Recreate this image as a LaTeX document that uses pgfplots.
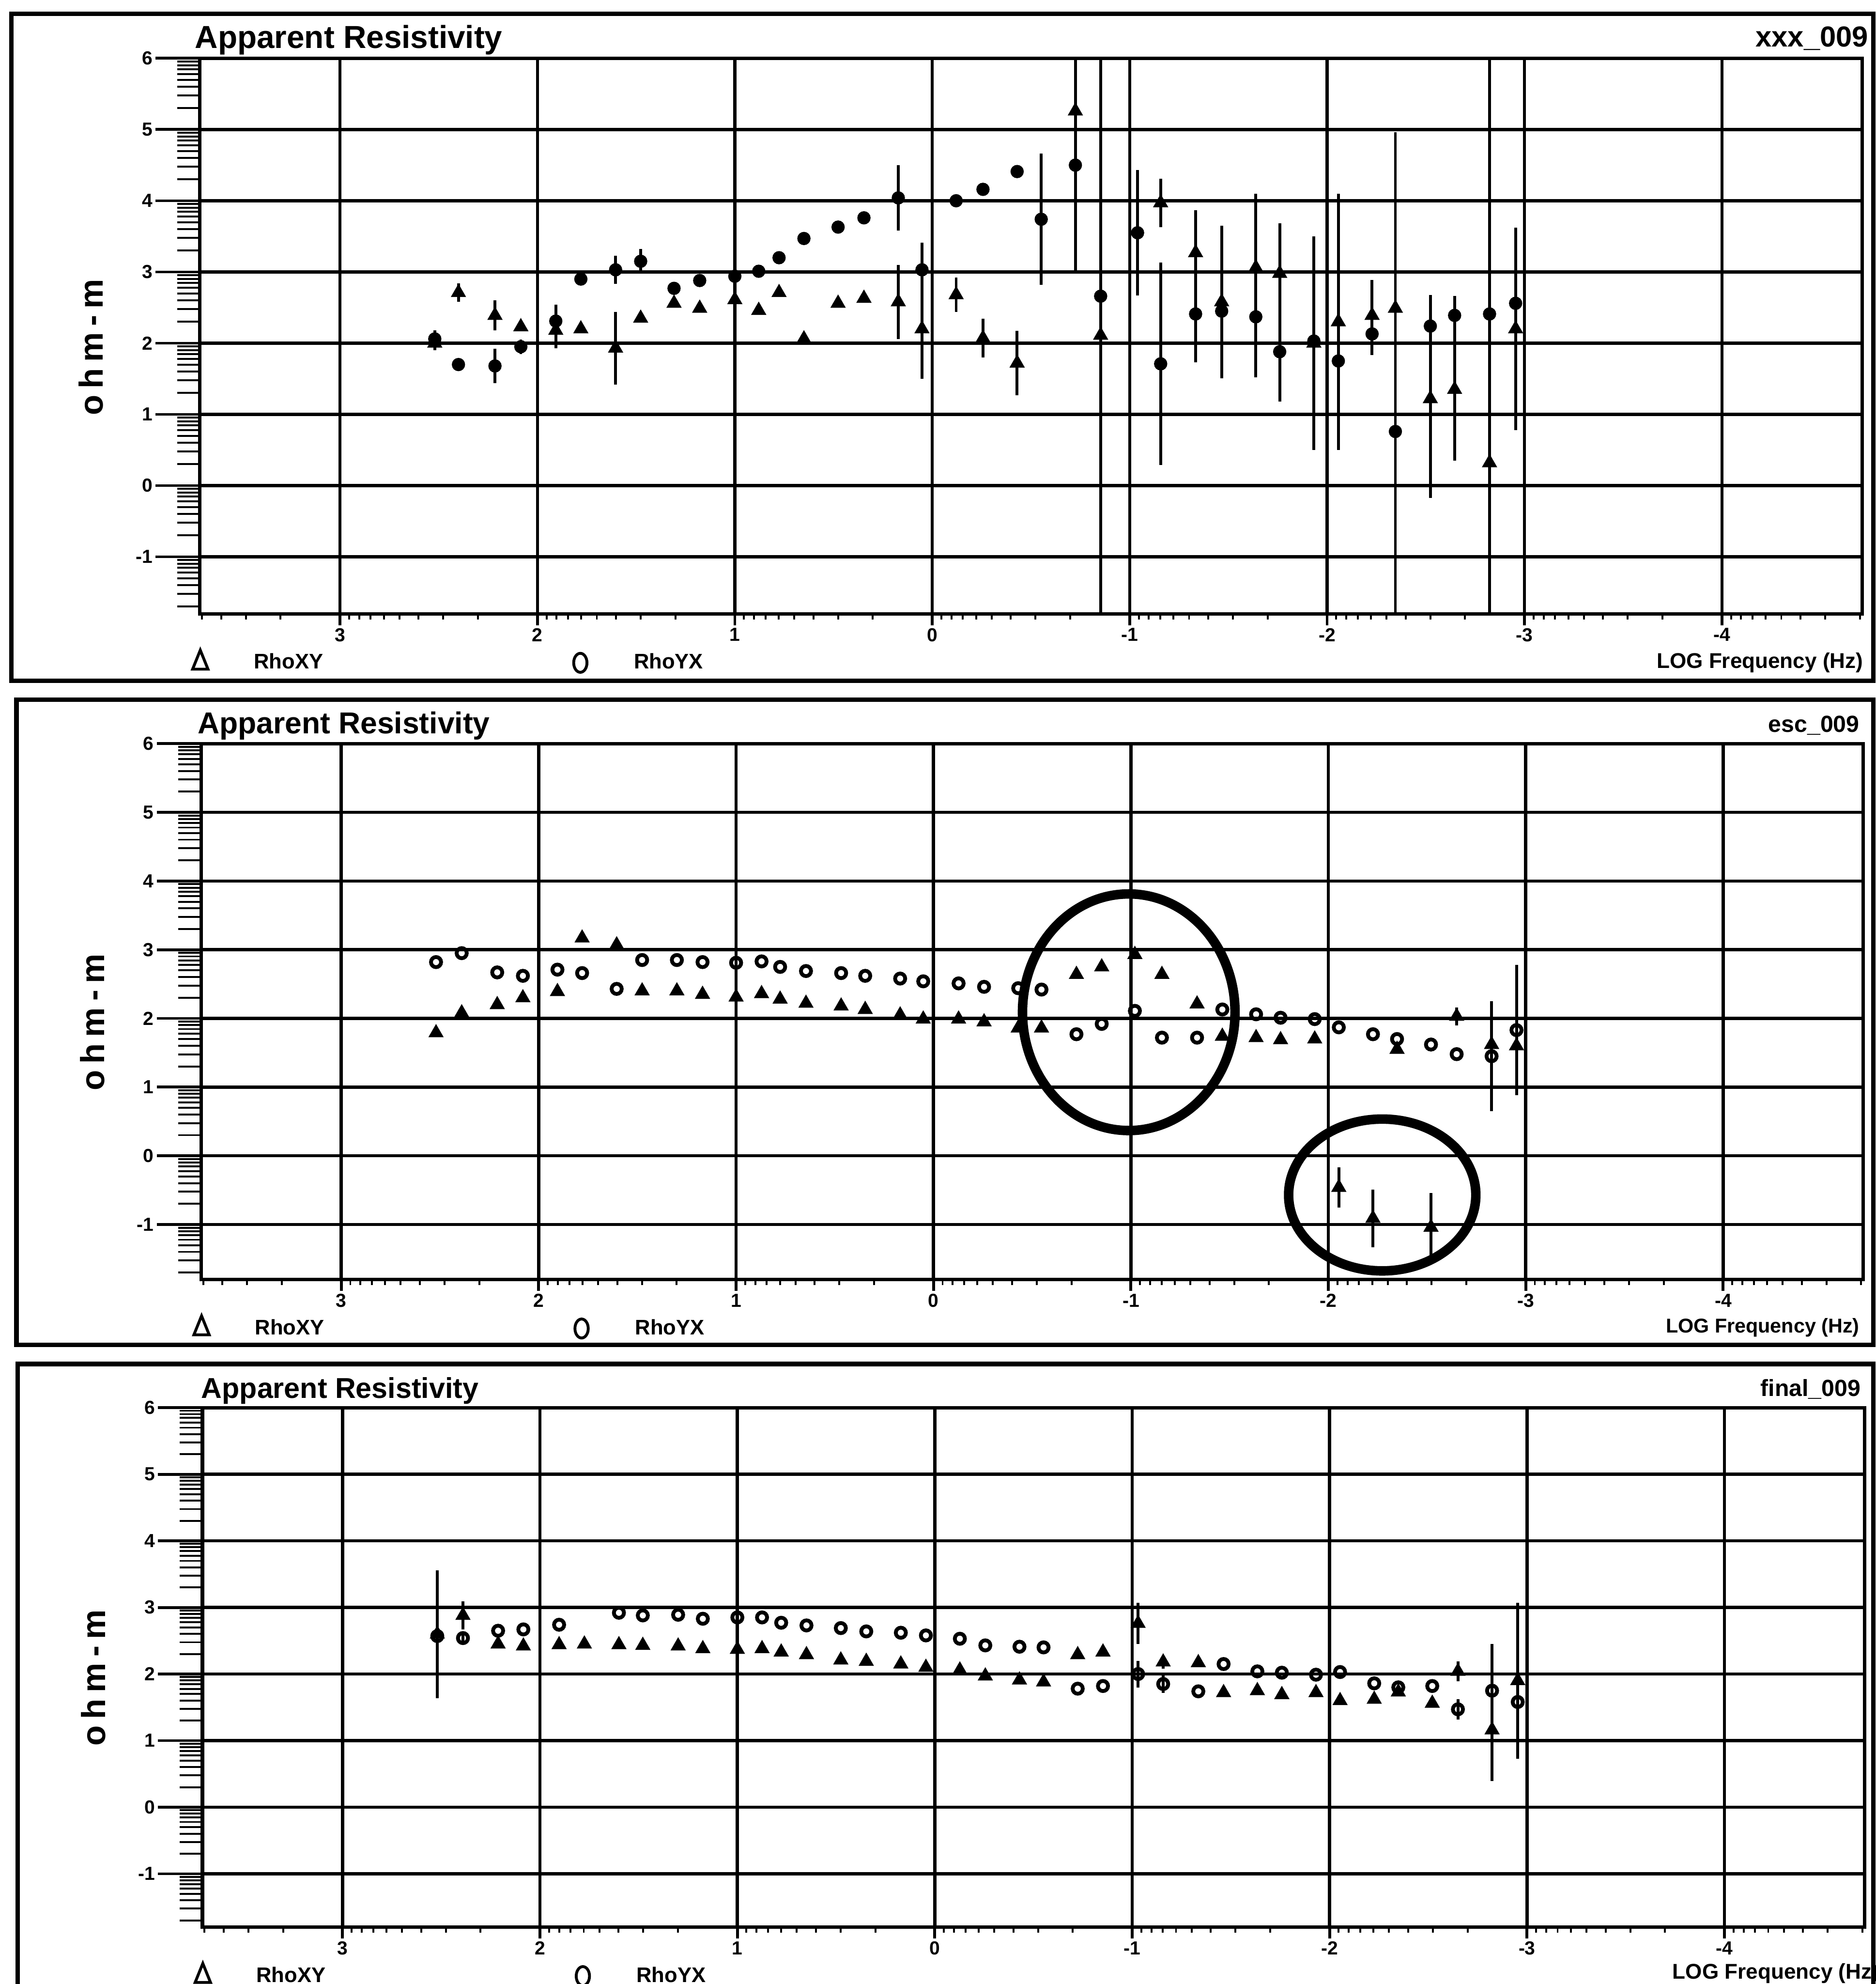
\documentclass[border=0pt]{standalone}
\usepackage{pgfplots}
\usepackage{pgfplotstable}
\pgfplotsset{compat=1.18}
\usepackage{fontspec}
\setmainfont{Liberation Sans}

% columns: x = log frequency, c = RhoYX, ce = its error, t = RhoXY, te = its error
\pgfplotstableread{
x c ce t te
2.52 2.06 0.12 2.00 0.10
2.40 1.70 0 2.71 0.13
2.215 1.68 0.24 2.39 0.21
2.084 1.95 0.10 2.23 0
1.907 2.31 0.23 2.18 0.25
1.78 2.90 0 2.20 0
1.604 3.03 0.20 1.93 0.51
1.477 3.15 0.17 2.35 0
1.308 2.77 0 2.56 0
1.178 2.88 0 2.49 0
1.00 2.94 0.17 2.61 0
0.879 3.01 0 2.46 0
0.776 3.20 0 2.71 0
0.65 3.47 0 2.06 0
0.477 3.63 0 2.56 0
0.346 3.76 0 2.63 0
0.172 4.04 0.46 2.58 0.52
0.052 3.03 0.38 2.20 0.70
-0.121 4.00 0 2.68 0.24
-0.257 4.16 0 2.07 0.27
-0.43 4.41 0 1.72 0.45
-0.552 3.74 0.92 nan 0
-0.725 4.50 1.50 5.26 1.00
-0.853 2.66 5.00 2.11 5.00
-1.04 3.55 0.88 nan 0
-1.157 1.71 1.42 3.97 0.34
-1.334 2.41 0.68 3.27 0.60
-1.466 2.45 0.90 2.58 1.07
-1.639 2.37 0.85 3.06 1.04
-1.76 1.88 0.70 2.98 0.70
-1.933 2.03 1.40 2.00 1.50
-2.057 1.75 1.20 2.30 1.80
-2.228 2.13 0.30 2.39 0.50
-2.346 0.76 4.20 2.49 2.45
-2.523 2.24 0.44 1.22 1.39
-2.646 2.39 0.27 1.35 1.00
-2.823 2.41 5.00 0.32 5.00
-2.955 2.56 0.90 2.20 1.42
}\dPa

\pgfplotstableread{
x c ce t te
2.52 2.82 0 1.79 0
2.39 2.95 0 2.08 0
2.21 2.67 0 2.20 0
2.08 2.62 0 2.30 0
1.905 2.71 0 2.39 0
1.78 2.66 0 3.17 0
1.605 2.43 0 3.07 0
1.476 2.85 0 2.40 0
1.30 2.85 0 2.40 0
1.17 2.82 0 2.35 0
1.00 2.81 0 2.31 0
0.871 2.83 0 2.36 0
0.777 2.75 0 2.28 0
0.646 2.69 0 2.22 0
0.468 2.66 0 2.18 0
0.346 2.62 0 2.13 0
0.169 2.58 0 2.05 0
0.052 2.54 0 1.99 0
-0.127 2.51 0 1.99 0
-0.256 2.46 0 1.95 0
-0.429 2.44 0 1.86 0
-0.547 2.42 0 1.86 0
-0.724 1.77 0 2.64 0
-0.852 1.92 0 2.75 0
-1.02 2.11 0 2.93 0
-1.157 1.72 0 2.64 0
-1.335 1.72 0 2.21 0
-1.463 2.13 0 1.74 0
-1.634 2.06 0 1.72 0
-1.758 2.01 0 1.69 0
-1.931 1.99 0 1.70 0
-2.053 1.87 0 -0.46 0.29
-2.226 1.77 0 -0.91 0.42
-2.348 1.70 0 1.55 0
-2.52 1.62 0 -1.04 0.50
-2.65 1.48 0 2.03 0.13
-2.827 1.45 0.80 1.62 0
-2.953 1.83 0.95 1.60 0
}\dPb

\pgfplotstableread{
x c ce t te
2.52 2.57 0 2.60 0.96
2.39 2.54 0.10 2.88 0.21
2.212 2.65 0 2.45 0
2.084 2.67 0 2.42 0
1.903 2.74 0 2.44 0
1.775 nan 0 2.45 0
1.60 2.92 0 2.44 0
1.479 2.88 0 2.43 0
1.30 2.89 0 2.42 0
1.175 2.83 0 2.38 0
1.00 2.85 0 2.37 0.12
0.875 2.85 0 2.38 0
0.778 2.77 0 2.33 0
0.65 2.73 0 2.29 0
0.476 2.69 0 2.21 0
0.347 2.64 0 2.19 0
0.172 2.62 0 2.15 0
0.045 2.58 0 2.10 0
-0.127 2.53 0 2.06 0
-0.256 2.43 0 1.97 0
-0.429 2.41 0 1.91 0
-0.551 2.40 0 1.88 0
-0.724 1.78 0 2.29 0
-0.852 1.82 0 2.33 0
-1.03 2.00 0.20 2.76 0.31
-1.157 1.85 0.13 2.18 0.10
-1.335 1.74 0 2.17 0
-1.463 2.15 0 1.72 0
-1.634 2.04 0 1.75 0
-1.758 2.02 0 1.69 0
-1.931 1.99 0 1.72 0
-2.053 2.03 0 1.60 0
-2.226 1.86 0 1.62 0
-2.348 1.80 0 1.73 0
-2.52 1.82 0 1.56 0
-2.65 1.47 0.15 2.04 0.15
-2.823 1.75 0.70 1.16 0.77
-2.953 1.58 0.50 1.90 1.17
}\dPc

\pgfplotsset{
  panelbase/.style={
    scale only axis, width=262.8mm, anchor=north west,
    x dir=reverse, xmin=-4.71, xmax=3.71, ymin=-1.8, ymax=6,
    axis line style={line width=0.55mm, black},
    major grid style={line width=0.5mm, black},
    tick align=outside,
    /pgf/number format/assume math mode=true,
    tick label style={font=\fontsize{8.5}{10}\selectfont\bfseries, inner sep=1.2pt},
    every major tick/.append style={line width=0.45mm, black},
    every minor tick/.append style={line width=0.3mm, black},
  },
  yside/.style={panelbase,
    xtick=\empty,
    ytick={-1,0,1,2,3,4,5,6},
    minor ytick={-1.699,-1.523,-1.398,-1.301,-1.222,-1.155,-1.097,-1.046,-0.699,-0.523,-0.398,-0.301,-0.222,-0.155,-0.097,-0.046,0.301,0.477,0.602,0.699,0.778,0.845,0.903,0.954,1.301,1.477,1.602,1.699,1.778,1.845,1.903,1.954,2.301,2.477,2.602,2.699,2.778,2.845,2.903,2.954,3.301,3.477,3.602,3.699,3.778,3.845,3.903,3.954,4.301,4.477,4.602,4.699,4.778,4.845,4.903,4.954,5.301,5.477,5.602,5.699,5.778,5.845,5.903,5.954},
    ymajorgrids, ytick pos=left,
    major tick length=7mm, minor tick length=3.6mm,
    ylabel={o\hspace{1mm}h\hspace{1mm}m\hspace{1mm}-\hspace{1mm}m},
    ylabel style={at={([xshift=-17.2mm]axis description cs:0,0.48)}, anchor=center, font=\fontsize{15}{18}\selectfont\bfseries},
  },
  xside/.style={panelbase,
    ytick=\empty,
    xtick={-4,-3,-2,-1,0,1,2,3},
    minor xtick={-4.699,-4.523,-4.398,-4.301,-4.222,-4.155,-4.097,-4.046,-3.699,-3.523,-3.398,-3.301,-3.222,-3.155,-3.097,-3.046,-2.699,-2.523,-2.398,-2.301,-2.222,-2.155,-2.097,-2.046,-1.699,-1.523,-1.398,-1.301,-1.222,-1.155,-1.097,-1.046,-0.699,-0.523,-0.398,-0.301,-0.222,-0.155,-0.097,-0.046,0.301,0.477,0.602,0.699,0.778,0.845,0.903,0.954,1.301,1.477,1.602,1.699,1.778,1.845,1.903,1.954,2.301,2.477,2.602,2.699,2.778,2.845,2.903,2.954,3.301,3.477,3.602,3.699},
    xmajorgrids, xtick pos=left,
    major tick length=1.8mm, minor tick length=0.9mm,
    legend columns=2,
    legend style={draw=none, fill=none, inner sep=0pt, outer sep=0pt,
      at={([xshift=-1.6mm,yshift=-7.5mm]axis description cs:0,0)}, anchor=west,
      font=\fontsize{9.5}{11}\selectfont\bfseries,
      nodes={inner sep=0pt},
      /tikz/every even column/.append style={column sep=39mm}},
    legend image code/.code={\draw[##1] plot coordinates {(0mm,0mm)}; \path (-1.6mm,0mm) (8.4mm,0mm);},
  },
  cF/.style={only marks, mark=*, mark size=1.0mm, mark options={fill=black, draw=black, line width=0.1mm}, forget plot},
  cO/.style={only marks, mark=o, mark size=0.8mm, mark options={draw=black, fill=white, line width=0.6mm}, forget plot},
  tF/.style={only marks, mark=triangle*, mark size=1.3mm, mark options={fill=black, draw=black, line width=0.1mm}, forget plot},
  eb/.style={error bars/y dir=both, error bars/y explicit, error bars/error bar style={line width=0.45mm, black}, error bars/error mark=none},
  legXY/.style={mark=triangle, mark size=2.0mm, mark options={xscale=0.7, line width=0.45mm}},
  legYX/.style={mark=o, mark size=1.5mm, mark options={xscale=0.7, line width=0.45mm}},
}

\begin{document}
\begin{tikzpicture}
\useasboundingbox (0,0) rectangle (296.6mm,-313.6mm);

% outer frames
\draw[line width=0.7mm] (1.8mm,-2.2mm) rectangle (296.2mm,-107.6mm);
\draw[line width=0.7mm] (2.6mm,-110.6mm) rectangle (296.2mm,-212.6mm);
\draw[line width=0.7mm] (2.8mm,-215.6mm) rectangle (296.2mm,-320mm);

% ---------------- panel 1 ----------------
\begin{axis}[yside, at={(31.6mm,-9.22mm)}, height=87.8mm]
\end{axis}
\begin{axis}[xside, name=p1, at={(31.6mm,-9.22mm)}, height=87.8mm]
\addlegendimage{legXY}\addlegendentry{RhoXY}
\addlegendimage{legYX}\addlegendentry{RhoYX}
\addplot[tF, eb] table[x=x, y=t, y error=te] {\dPa};
\addplot[cF, eb] table[x=x, y=c, y error=ce] {\dPa};
\end{axis}
\node[anchor=base west, font=\fontsize{14.3}{17}\selectfont\bfseries] at ([xshift=-2.0mm,yshift=1.6mm]p1.north west) {Apparent Resistivity};
\node[anchor=base east, font=\fontsize{13}{16}\selectfont\bfseries] at ([xshift=2.2mm,yshift=1.8mm]p1.north east) {xxx\_009};
\node[anchor=base east, font=\fontsize{9.6}{11}\selectfont\bfseries] at ([xshift=1.4mm,yshift=-8.6mm]p1.south east) {LOG Frequency (Hz)};

% ---------------- panel 2 ----------------
\begin{axis}[yside, at={(31.8mm,-117.54mm)}, height=84.7mm]
\end{axis}
\begin{axis}[xside, name=p2, at={(31.8mm,-117.54mm)}, height=84.7mm]
\addlegendimage{legXY}\addlegendentry{RhoXY}
\addlegendimage{legYX}\addlegendentry{RhoYX}
\addplot[tF, eb] table[x=x, y=t, y error=te] {\dPb};
\addplot[cO, eb] table[x=x, y=c, y error=ce] {\dPb};
\draw[line width=1.5mm] (axis cs:-0.989,2.09) ellipse [x radius=16.8mm, y radius=18.7mm];
\draw[line width=1.5mm] (axis cs:-2.273,-0.57) ellipse [x radius=14.8mm, y radius=12mm];
\end{axis}
\node[anchor=base west, font=\fontsize{13.6}{17}\selectfont\bfseries] at ([xshift=-1.8mm,yshift=1.6mm]p2.north west) {Apparent Resistivity};
\node[anchor=base east, font=\fontsize{10.5}{13}\selectfont\bfseries] at ([xshift=0.6mm,yshift=1.8mm]p2.north east) {esc\_009};
\node[anchor=base east, font=\fontsize{9}{11}\selectfont\bfseries] at ([xshift=0.6mm,yshift=-8.4mm]p2.south east) {LOG Frequency (Hz)};

% ---------------- panel 3 ----------------
\begin{axis}[yside, at={(32.0mm,-222.5mm)}, height=82.1mm]
\end{axis}
\begin{axis}[xside, name=p3, at={(32.0mm,-222.5mm)}, height=82.1mm]
\addlegendimage{legXY}\addlegendentry{RhoXY}
\addlegendimage{legYX}\addlegendentry{RhoYX}
\addplot[tF, eb] table[x=x, y=t, y error=te] {\dPc};
\addplot[cO, eb] table[x=x, y=c, y error=ce] {\dPc};
\end{axis}
\node[anchor=base west, font=\fontsize{12.9}{16}\selectfont\bfseries] at ([xshift=-1.4mm,yshift=1.5mm]p3.north west) {Apparent Resistivity};
\node[anchor=base east, font=\fontsize{10.5}{13}\selectfont\bfseries] at ([xshift=0.6mm,yshift=1.8mm]p3.north east) {final\_009};
\node[anchor=base east, font=\fontsize{9.6}{11}\selectfont\bfseries] at ([xshift=3.5mm,yshift=-8.2mm]p3.south east) {LOG Frequency (Hz)};
\end{tikzpicture}
\end{document}
